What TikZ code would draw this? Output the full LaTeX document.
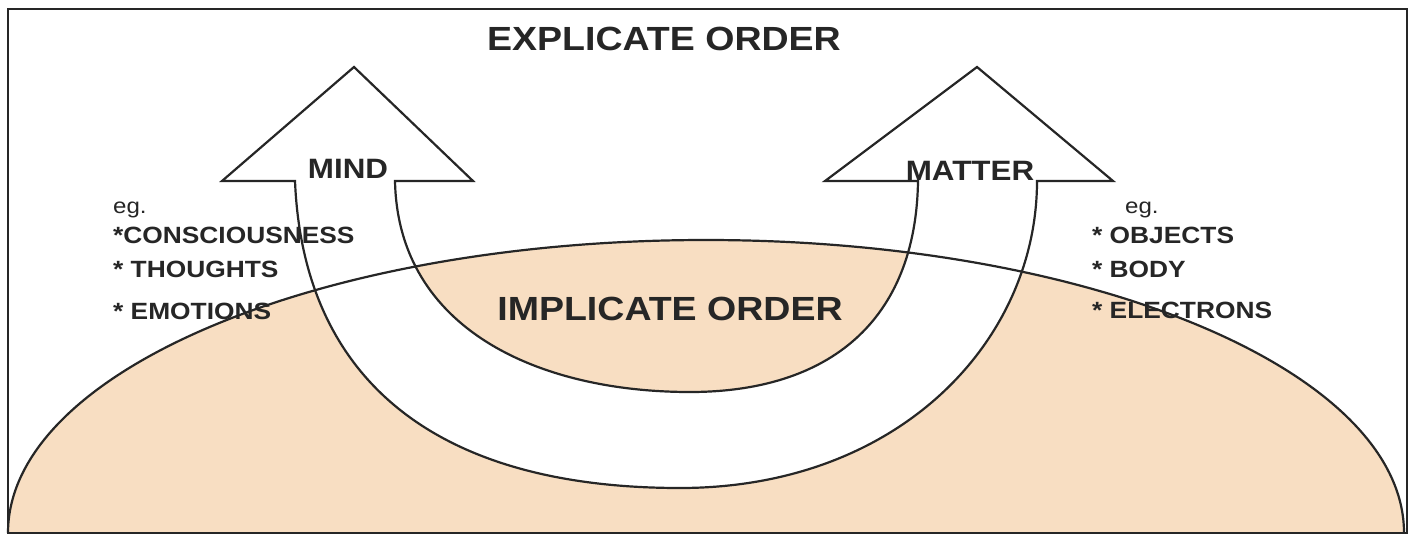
\documentclass[tikz,border=0pt]{standalone}
\usepackage{fontspec}
\setmainfont{Liberation Sans}[FakeStretch=1.12]
\definecolor{inkgray}{RGB}{38,38,38}
\definecolor{pencilorange}{RGB}{248,222,194}
\tikzset{
  outline/.style={draw=inkgray, line width=2.2pt, line join=miter},
  bigtxt/.style={text=inkgray, inner sep=0pt, font=\fontsize{33.5}{38}\selectfont\bfseries},
  headtxt/.style={text=inkgray, inner sep=0pt, font=\fontsize{28}{32}\selectfont\bfseries},
  listtxt/.style={text=inkgray, inner sep=0pt, anchor=base west, font=\fontsize{23.5}{27}\selectfont\bfseries},
  egtxt/.style={text=inkgray, inner sep=0pt, anchor=base west, font=\fontsize{21.5}{25}\selectfont},
}
\begin{document}
\begin{tikzpicture}[x=1pt,y=-1pt]
\useasboundingbox (0,0) rectangle (1415,536);
\fill[white] (0,0) rectangle (1415,536);
% implicate order region (half ellipse)
\fill[pencilorange] (8,533) arc[start angle=180,end angle=360,x radius=698,y radius=293] -- cycle;
% U-shaped double arrow filled white
\path[fill=white] (295,181) .. controls (303,375) and (430,488) .. (680,488)
  .. controls (900,488) and (1037,340) .. (1037,181) -- (1113,181) -- (977,67) -- (825,181) -- (918,181)
  .. controls (916,320) and (830,392) .. (690,392)
  .. controls (540,392) and (398,330) .. (395,181) -- (473,181) -- (354,67) -- (222,181) -- cycle;
% ellipse outline
\draw[outline] (8,533) arc[start angle=180,end angle=360,x radius=698,y radius=293];
% arrow outline
\draw[outline] (295,181) .. controls (303,375) and (430,488) .. (680,488)
  .. controls (900,488) and (1037,340) .. (1037,181) -- (1113,181) -- (977,67) -- (825,181) -- (918,181)
  .. controls (916,320) and (830,392) .. (690,392)
  .. controls (540,392) and (398,330) .. (395,181) -- (473,181) -- (354,67) -- (222,181) -- cycle;
% frame
\draw[outline] (8,9) rectangle (1407,533);
% texts
\node[bigtxt, anchor=base] (explicate) at (664,50.7) {EXPLICATE ORDER};
\node[bigtxt, anchor=base] (implicate) at (670,320) {IMPLICATE ORDER};
\node[headtxt, anchor=base] (mind) at (348,178) {MIND};
\node[headtxt, anchor=base] (matter) at (970,180) {MATTER};
\node[egtxt] (egl) at (113,213) {eg.};
\node[listtxt] (cons) at (113,243) {*CONSCIOUSNESS};
\node[listtxt] (thou) at (113,277) {* THOUGHTS};
\node[listtxt] (emot) at (113,319) {* EMOTIONS};
\node[egtxt] (egr) at (1125,213) {eg.};
\node[listtxt] (obj) at (1092,243) {* OBJECTS};
\node[listtxt] (body) at (1092,277) {* BODY};
\node[listtxt] (elec) at (1092,318) {* ELECTRONS};
\end{tikzpicture}
\end{document}
